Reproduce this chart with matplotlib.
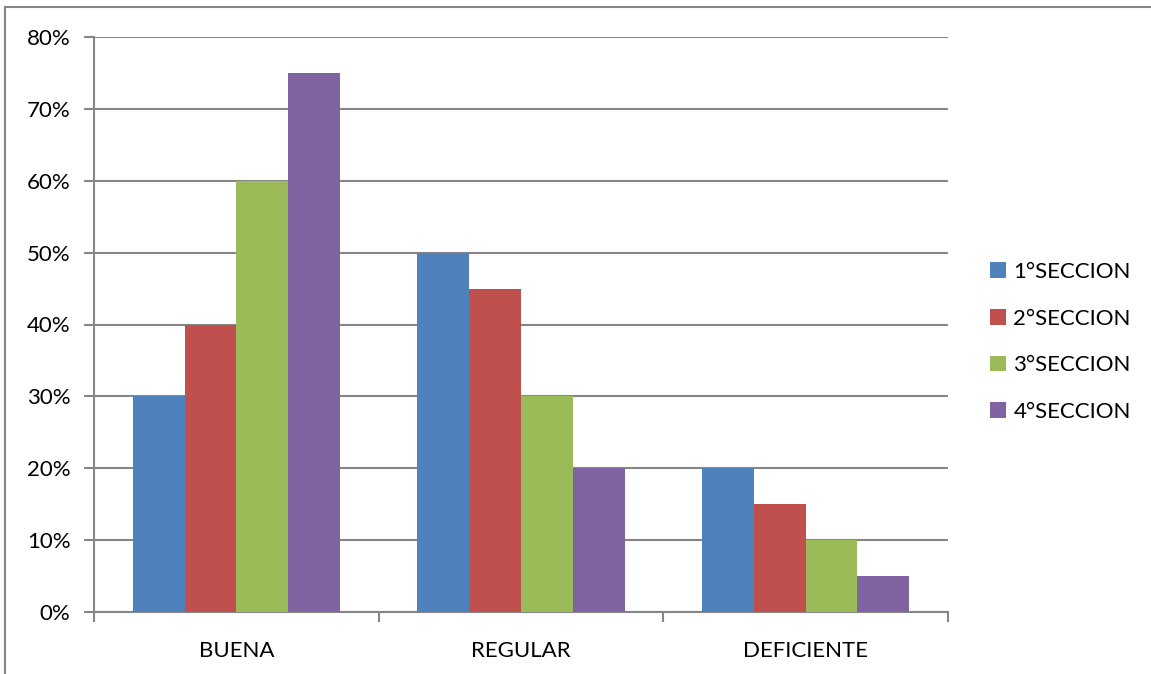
import numpy as np
import matplotlib.pyplot as plt
from matplotlib.lines import Line2D
from matplotlib.ticker import FixedLocator, PercentFormatter
from matplotlib.patches import Patch

plt.rcParams['font.family'] = ['Lato', 'DejaVu Sans']

categorias = ["BUENA", "REGULAR", "DEFICIENTE"]
secciones = ["1°SECCION", "2°SECCION", "3°SECCION", "4°SECCION"]
valores = {
    "1°SECCION": [30, 50, 20],
    "2°SECCION": [40, 45, 15],
    "3°SECCION": [60, 30, 10],
    "4°SECCION": [75, 20, 5],
}
colores = ["#4F81BD", "#C0504D", "#9BBB59", "#8064A2"]
gris = "#868686"

W, H = 1151, 674
fig = plt.figure(figsize=(W / 100, H / 100), dpi=100)
ax = fig.add_axes([94 / W, (H - 612) / H, (948 - 94) / W, (612 - 37) / H])

# anchos tipo Excel: separacion 150 %
n = len(secciones)
ancho = 1 / (n + 1.5)
x = np.arange(len(categorias))
for i, (s, c) in enumerate(zip(secciones, colores)):
    pos = x - n * ancho / 2 + (i + 0.5) * ancho
    ax.bar(pos, valores[s], width=ancho, color=c, zorder=3)

ax.set_xlim(-0.5, len(categorias) - 0.5)
ax.set_ylim(0, 80)
ax.yaxis.set_major_locator(FixedLocator(np.arange(0, 81, 10)))
ax.yaxis.set_major_formatter(PercentFormatter(decimals=0))
ax.grid(axis="y", color=gris, linewidth=1.5, zorder=0)

# marcas entre categorias, etiquetas centradas
ax.xaxis.set_major_locator(FixedLocator(np.arange(-0.5, len(categorias), 1)))
ax.set_xticklabels([])
ax.xaxis.set_minor_locator(FixedLocator(x))
ax.set_xticklabels(categorias, minor=True)
ax.tick_params(axis="x", which="minor", length=0, pad=21, labelsize=16)
ax.tick_params(axis="x", which="major", length=7, width=1.5, color=gris, direction="out")
ax.tick_params(axis="y", length=7, width=1.5, color=gris, direction="out", pad=10, labelsize=16)

for lado in ["top", "right"]:
    ax.spines[lado].set_visible(False)
for lado in ["left", "bottom"]:
    ax.spines[lado].set_color(gris)
    ax.spines[lado].set_linewidth(1.5)

# borde del grafico
fig.add_artist(Line2D([5 / W, 1], [1 - 7 / H, 1 - 7 / H], color=gris, lw=1.5))
fig.add_artist(Line2D([5 / W, 5 / W], [0, 1 - 7 / H], color=gris, lw=1.5))

handles = [Patch(facecolor=c, label=s) for s, c in zip(secciones, colores)]
fig.legend(handles=handles, loc="center left", bbox_to_anchor=(970 / W, 1 - 342 / H),
           frameon=False, fontsize=16, handlelength=0.7, handleheight=0.7,
           handletextpad=0.35, labelspacing=1.2)

fig.savefig("out.png", dpi=100)
